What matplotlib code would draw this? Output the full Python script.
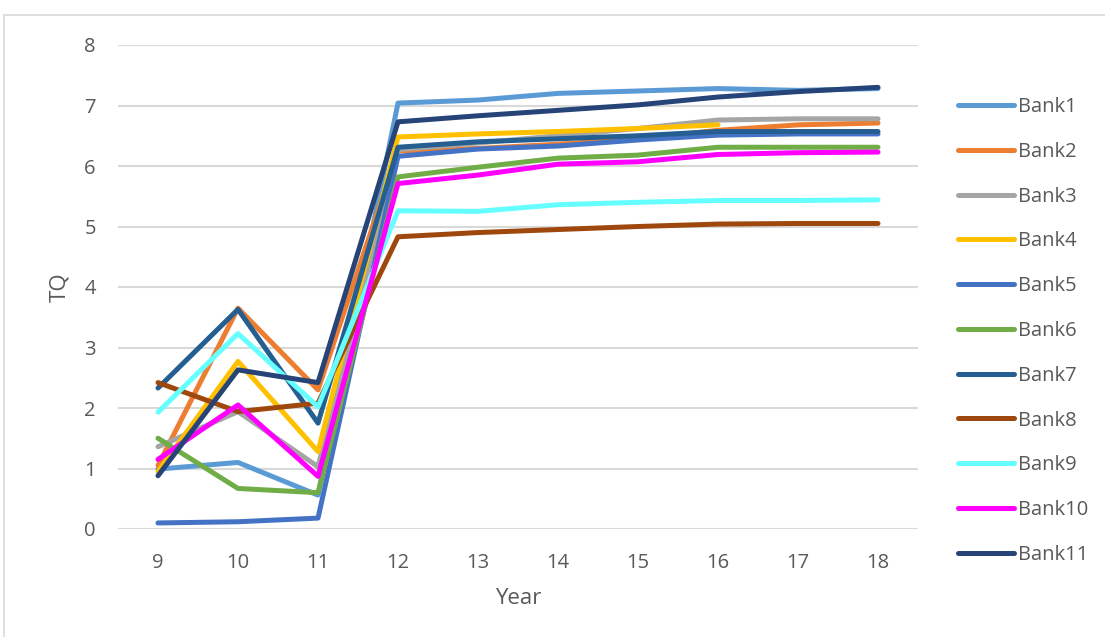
import numpy as np
import matplotlib
matplotlib.use("Agg")
import matplotlib.pyplot as plt
from matplotlib.patches import Rectangle

# Tobin's Q per bank, years 9..18 (Bank4 has no values for 17 and 18)
years = [9, 10, 11, 12, 13, 14, 15, 16, 17, 18]
nan = np.nan

bank1 = [0.99, 1.10, 0.56, 7.04, 7.09, 7.20, 7.24, 7.28, 7.25, 7.28]
bank2 = [1.05, 3.65, 2.30, 6.25, 6.29, 6.36, 6.45, 6.59, 6.68, 6.71]
bank3 = [1.36, 1.94, 1.03, 6.27, 6.38, 6.50, 6.62, 6.76, 6.78, 6.78]
bank4 = [0.95, 2.77, 1.28, 6.48, 6.53, 6.57, 6.62, 6.68, nan, nan]
bank5 = [0.10, 0.12, 0.18, 6.16, 6.28, 6.33, 6.43, 6.51, 6.53, 6.53]
bank6 = [1.50, 0.67, 0.60, 5.82, 5.98, 6.13, 6.18, 6.31, 6.31, 6.31]
bank7 = [2.33, 3.63, 1.75, 6.31, 6.40, 6.45, 6.50, 6.57, 6.57, 6.57]
bank8 = [2.42, 1.94, 2.08, 4.83, 4.90, 4.95, 5.00, 5.04, 5.05, 5.05]
bank9 = [1.93, 3.23, 2.02, 5.26, 5.25, 5.36, 5.40, 5.43, 5.43, 5.44]
bank10 = [1.15, 2.05, 0.87, 5.71, 5.85, 6.03, 6.07, 6.19, 6.22, 6.23]
bank11 = [0.88, 2.63, 2.42, 6.73, 6.83, 6.92, 7.01, 7.14, 7.23, 7.30]

series = {
    "Bank1": (bank1, "#5B9BD5"),
    "Bank2": (bank2, "#ED7D31"),
    "Bank3": (bank3, "#A5A5A5"),
    "Bank4": (bank4, "#FFC000"),
    "Bank5": (bank5, "#4472C4"),
    "Bank6": (bank6, "#70AD47"),
    "Bank7": (bank7, "#255E91"),
    "Bank8": (bank8, "#9E480E"),
    "Bank9": (bank9, "#66FFFF"),
    "Bank10": (bank10, "#FF00FF"),
    "Bank11": (bank11, "#264478"),
}

text_color = "#595959"
grid_color = "#D9D9D9"
plt.rcParams["font.family"] = ["Open Sans", "DejaVu Sans"]

W, H = 1105, 637
fig = plt.figure(figsize=(W / 100, H / 100), dpi=100)
ax = fig.add_axes([118 / W, 1 - 529 / H, 800 / W, 484 / H])

for name, (vals, color) in series.items():
    ax.plot(years, vals, color=color, lw=3.6, label=name,
            solid_capstyle="round", solid_joinstyle="round")

ax.set_xlim(8.5, 18.5)
ax.set_ylim(0, 8)
ax.set_xticks(years)
ax.set_yticks(range(0, 9))
ax.grid(axis="y", color=grid_color, lw=1.5)
ax.set_axisbelow(True)
for s in ax.spines.values():
    s.set_visible(False)
ax.tick_params(length=0, labelsize=14.5, labelcolor=text_color)
ax.tick_params(axis="x", pad=17)
ax.tick_params(axis="y", pad=16)

ax.set_xlabel("Year", fontsize=16, color=text_color)
ax.set_ylabel("TQ", fontsize=16, color=text_color)
ax.xaxis.set_label_coords(0.5, -(599 - 529) / 484)
ax.yaxis.set_label_coords(-(118 - 60) / 800, 0.5)
ax.xaxis.label.set_va("center")
ax.yaxis.label.set_va("center")

fig.legend(loc="center left", bbox_to_anchor=(958 / W, 1 - 331 / H),
           frameon=False, fontsize=14.5, labelcolor=text_color,
           handlelength=2.8, handletextpad=0.2, labelspacing=1.23,
           borderpad=0, borderaxespad=0)

# thin chart-area border
fig.add_artist(Rectangle((4 / W, -0.01), 1.0, 1 - 15 / H + 0.01,
                         transform=fig.transFigure, fill=False,
                         edgecolor=grid_color, lw=1.2))

fig.savefig("out.png", dpi=100)
